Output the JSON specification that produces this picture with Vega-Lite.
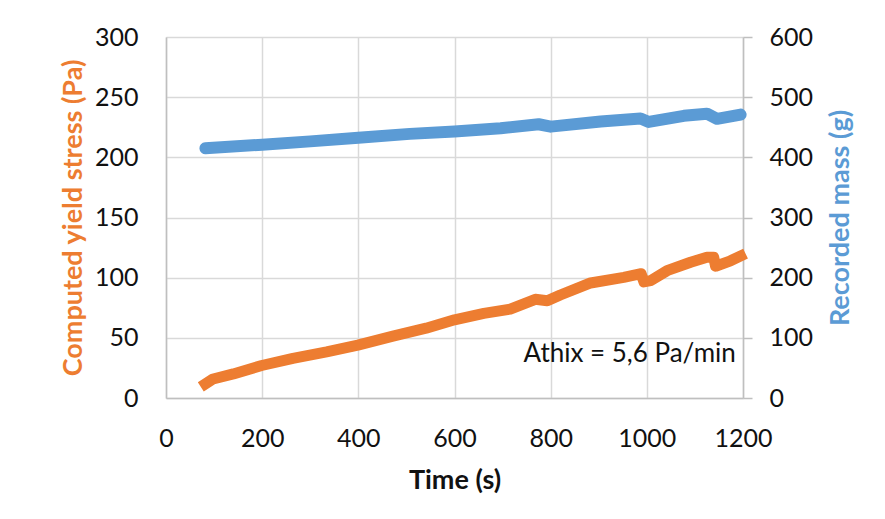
{
  "$schema": "https://vega.github.io/schema/vega-lite/v6.json",
  "width": 577,
  "height": 361,
  "autosize": {"type": "none"},
  "padding": {"left": 166, "top": 37, "right": 142, "bottom": 121},
  "background": "#ffffff",
  "config": {
    "font": "Lato",
    "view": {"stroke": null},
    "axis": {
      "labelFont": "Lato",
      "labelFontSize": 25,
      "labelColor": "#111111",
      "labelFlush": false,
      "labelOverlap": false,
      "format": "d",
      "titleFont": "Lato",
      "titleFontSize": 27,
      "titleFontWeight": "bold",
      "domainColor": "#bfbfbf",
      "domainWidth": 1.5,
      "gridColor": "#d9d9d9",
      "gridWidth": 1.5,
      "tickColor": "#bfbfbf",
      "tickWidth": 1.5
    }
  },
  "datasets": {
    "stress": [
      {"time_s": 82, "yield_stress_pa": 11.7},
      {"time_s": 98, "yield_stress_pa": 15.8},
      {"time_s": 140, "yield_stress_pa": 20.0},
      {"time_s": 199, "yield_stress_pa": 27.0},
      {"time_s": 264, "yield_stress_pa": 33.0},
      {"time_s": 334, "yield_stress_pa": 38.3},
      {"time_s": 399, "yield_stress_pa": 43.9},
      {"time_s": 472, "yield_stress_pa": 51.4},
      {"time_s": 541, "yield_stress_pa": 58.0},
      {"time_s": 600, "yield_stress_pa": 65.0},
      {"time_s": 661, "yield_stress_pa": 70.3},
      {"time_s": 716, "yield_stress_pa": 73.9},
      {"time_s": 768, "yield_stress_pa": 82.0},
      {"time_s": 793, "yield_stress_pa": 80.8},
      {"time_s": 820, "yield_stress_pa": 85.6},
      {"time_s": 883, "yield_stress_pa": 95.6},
      {"time_s": 952, "yield_stress_pa": 100.3},
      {"time_s": 988, "yield_stress_pa": 103.3},
      {"time_s": 994, "yield_stress_pa": 96.5},
      {"time_s": 1008, "yield_stress_pa": 97.5},
      {"time_s": 1042, "yield_stress_pa": 105.8},
      {"time_s": 1091, "yield_stress_pa": 112.8},
      {"time_s": 1125, "yield_stress_pa": 117.0},
      {"time_s": 1139, "yield_stress_pa": 117.0},
      {"time_s": 1143, "yield_stress_pa": 109.5},
      {"time_s": 1174, "yield_stress_pa": 114.0},
      {"time_s": 1195, "yield_stress_pa": 118.0}
    ],
    "mass": [
      {"time_s": 82, "mass_g": 415.0},
      {"time_s": 200, "mass_g": 421.0},
      {"time_s": 300, "mass_g": 426.5},
      {"time_s": 400, "mass_g": 432.5},
      {"time_s": 507, "mass_g": 439.0},
      {"time_s": 600, "mass_g": 443.0},
      {"time_s": 696, "mass_g": 448.4},
      {"time_s": 775, "mass_g": 455.0},
      {"time_s": 800, "mass_g": 451.0},
      {"time_s": 904, "mass_g": 459.5},
      {"time_s": 987, "mass_g": 464.5},
      {"time_s": 1004, "mass_g": 458.8},
      {"time_s": 1077, "mass_g": 469.0},
      {"time_s": 1125, "mass_g": 472.5},
      {"time_s": 1146, "mass_g": 464.0},
      {"time_s": 1195, "mass_g": 471.0}
    ]
  },
  "layer": [
    {
      "layer": [
        {
          "data": {"name": "stress"},
          "mark": {"type": "line", "color": "#ED7D31", "strokeWidth": 11, "strokeCap": "square", "strokeJoin": "round"},
          "encoding": {
            "x": {
              "field": "time_s",
              "type": "quantitative",
              "scale": {"domain": [0, 1200], "nice": false},
              "axis": {
                "values": [0, 200, 400, 600, 800, 1000, 1200],
                "grid": true,
                "ticks": false,
                "tickSize": 0,
                "labelPadding": 28,
                "title": "Time (s)",
                "titleColor": "#111111",
                "titleX": 288.5,
                "titleY": 82,
                "titleAlign": "center",
                "titleBaseline": "middle"
              }
            },
            "y": {
              "field": "yield_stress_pa",
              "type": "quantitative",
              "scale": {"domain": [0, 300], "nice": false},
              "axis": {
                "orient": "left",
                "values": [0, 50, 100, 150, 200, 250, 300],
                "grid": true,
                "ticks": false,
                "tickSize": 0,
                "labelPadding": 28,
                "title": "Computed yield stress (Pa)",
                "titleColor": "#ED7D31",
                "titleAngle": -90,
                "titleX": -93,
                "titleY": 180.5,
                "titleAlign": "center",
                "titleBaseline": "middle"
              }
            }
          }
        },
        {
          "data": {"values": [{"note": "Athix = 5,6 Pa/min"}]},
          "mark": {"type": "text", "align": "right", "baseline": "middle", "font": "Lato", "fontSize": 26, "color": "#111111"},
          "encoding": {
            "x": {"datum": 1185, "type": "quantitative"},
            "y": {"datum": 36.6, "type": "quantitative"},
            "text": {"field": "note"}
          }
        }
      ]
    },
    {
      "data": {"name": "mass"},
      "mark": {"type": "line", "color": "#5B9BD5", "strokeWidth": 12, "strokeCap": "round", "strokeJoin": "round"},
      "encoding": {
        "x": {"field": "time_s", "type": "quantitative"},
        "y": {
          "field": "mass_g",
          "type": "quantitative",
          "scale": {"domain": [0, 600], "nice": false},
          "axis": {
            "orient": "right",
            "values": [0, 100, 200, 300, 400, 500, 600],
            "grid": false,
            "ticks": true,
            "tickSize": 9,
            "labelPadding": 17,
            "labelAlign": "left",
            "title": "Recorded mass (g)",
            "titleColor": "#5B9BD5",
            "titleAngle": -90,
            "titleX": 97,
            "titleY": 180.5,
            "titleAlign": "center",
            "titleBaseline": "middle"
          }
        }
      }
    }
  ],
  "resolve": {"scale": {"y": "independent"}}
}
